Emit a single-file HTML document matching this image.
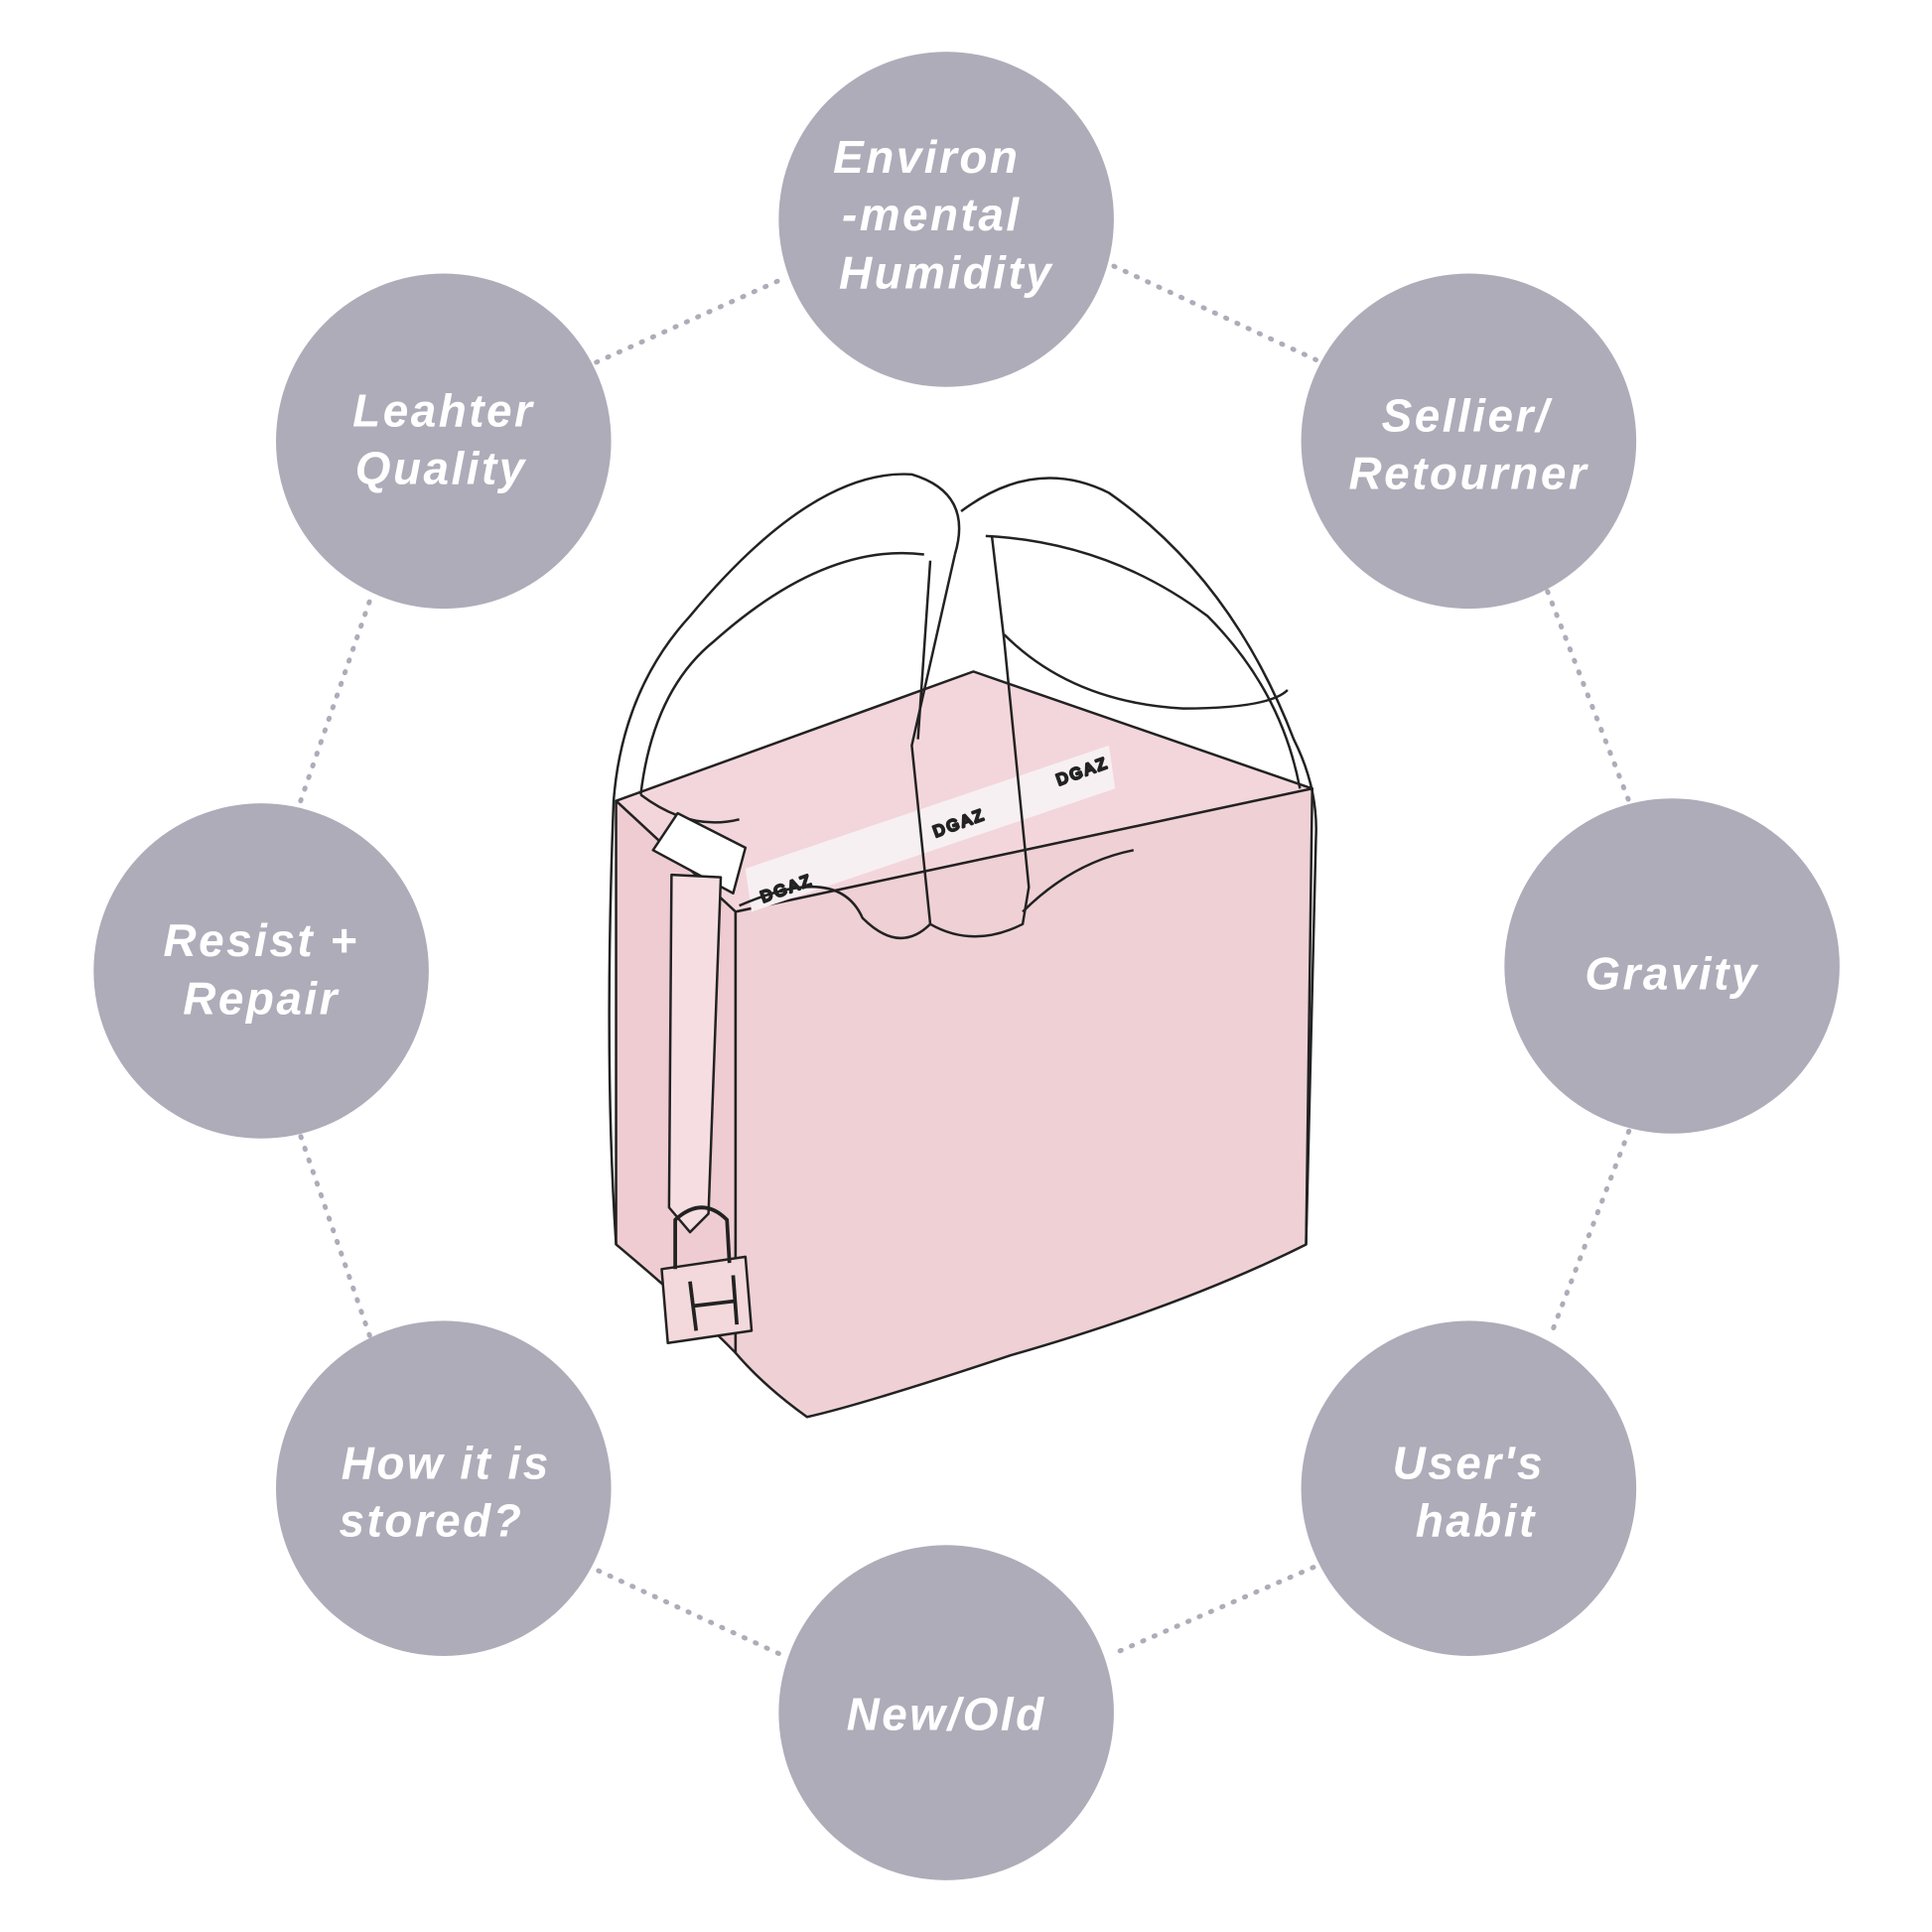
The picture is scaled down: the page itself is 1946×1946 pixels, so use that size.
<!DOCTYPE html>
<html><head><meta charset="utf-8"><style>
html,body{margin:0;padding:0;background:#fff;}
svg{display:block;}
text{font-family:"Liberation Sans","DejaVu Sans",sans-serif;font-weight:bold;font-style:italic;fill:#fff;font-size:37px;letter-spacing:2px;text-anchor:middle;}
</style></head><body>
<svg width="1946" height="1946" viewBox="0 0 1568 1568" xmlns="http://www.w3.org/2000/svg">
<g stroke="#aeacb9" stroke-width="4" stroke-dasharray="1 9" stroke-linecap="round" fill="none">
<path d="M484 294 L636 226"/>
<path d="M904 216 L1068 292"/>
<path d="M1256 480 L1322 650"/>
<path d="M1322 918 L1258 1085"/>
<path d="M1066 1272 L904 1342"/>
<path d="M632 1342 L484 1274"/>
<path d="M300 1084 L244 922"/>
<path d="M244 650 L302 482"/>
</g>
<g fill="#aeacb9">
<circle cx="768" cy="178" r="136"/>
<circle cx="360" cy="358" r="136"/>
<circle cx="1192" cy="358" r="136"/>
<circle cx="212" cy="788" r="136"/>
<circle cx="1357" cy="784" r="136"/>
<circle cx="360" cy="1208" r="136"/>
<circle cx="1192" cy="1208" r="136"/>
<circle cx="768" cy="1390" r="136"/>
</g>
<text x="752" y="140">Environ</text>
<text x="756" y="187">-mental</text>
<text x="768" y="234">Humidity</text>
<text x="360" y="346">Leahter</text>
<text x="358" y="393">Quality</text>
<text x="1190" y="350">Sellier/</text>
<text x="1192" y="397">Retourner</text>
<text x="212" y="776">Resist +</text>
<text x="212" y="823">Repair</text>
<text x="1357" y="803">Gravity</text>
<text x="362" y="1200">How it is</text>
<text x="350" y="1247">stored?</text>
<text x="1192" y="1200">User's</text>
<text x="1198" y="1247">habit</text>
<text x="768" y="1404">New/Old</text>
<!-- bag -->
<g stroke="#222" stroke-width="2" stroke-linejoin="round">
<path d="M500 650 L790 545 L1065 640 L597 740 Z" fill="#f3d6db"/>
<path d="M500 650 L597 740 L597 1098 Q560 1060 500 1010 Z" fill="#efccd2"/>
<path d="M597 740 L1065 640 L1060 1010 Q960 1060 820 1100 Q700 1140 655 1150 Q620 1125 597 1098 Z" fill="#eed0d5"/>
<path d="M605 705 L900 605 L905 640 L610 740 Z" fill="#f7f0f3" stroke="none"/>
<text x="640" y="725" style="font-size:13px;font-style:normal;font-weight:normal;fill:#555" transform="rotate(-20 640 725)">DGAZ</text>
<text x="780" y="672" style="font-size:13px;font-style:normal;font-weight:normal;fill:#555" transform="rotate(-20 780 672)">DGAZ</text>
<text x="880" y="630" style="font-size:13px;font-style:normal;font-weight:normal;fill:#555" transform="rotate(-20 880 630)">DGAZ</text>
<g fill="none">
<path d="M500 1010 Q490 860 498 650 Q505 560 560 500 Q660 380 740 385 Q790 400 775 450"/>
<path d="M520 645 Q530 560 580 520 Q670 440 750 450"/>
<path d="M520 645 Q560 675 600 665"/>
<path d="M775 450 L740 605 L755 750 Q790 770 830 750 L835 720 L815 520 L805 435"/>
<path d="M755 455 L745 600"/>
<path d="M780 415 Q840 370 900 400 Q1000 470 1050 600 Q1070 640 1068 680 L1060 1010"/>
<path d="M800 435 Q900 440 980 500 Q1040 560 1055 640"/>
<path d="M815 515 Q870 570 960 575 Q1030 575 1045 560"/>
<path d="M600 735 Q680 700 700 745 Q730 775 755 750"/>
<path d="M830 740 Q870 700 920 690"/>
</g>
<path d="M530 690 L550 660 L605 688 L595 725 Z" fill="#fff"/>
<path d="M545 710 L585 712 L575 985 L560 1000 L543 980 Z" fill="#f6dde1"/>
<path d="M537 1030 L605 1020 L610 1080 L542 1090 Z" fill="#f3d8dc"/>
<path d="M548 1030 L548 990 Q570 970 590 990 L592 1025" fill="none" stroke-width="3"/>
<path d="M560 1040 L565 1080 M595 1035 L598 1075 M562 1060 L596 1056" fill="none" stroke-width="3"/>
</g>
</svg>
</body></html>
